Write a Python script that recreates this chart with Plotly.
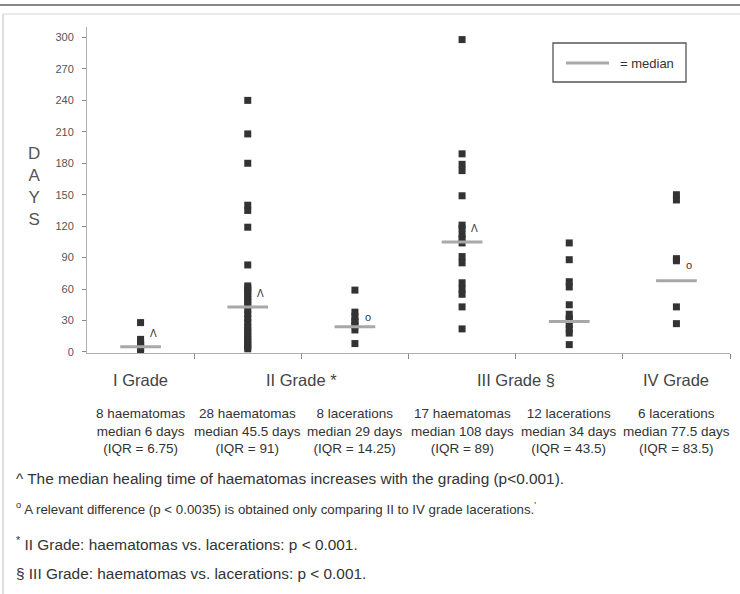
import plotly.graph_objects as go

# ---------------- data ----------------
grade_labels = ["I Grade", "II Grade *", "III Grade §", "IV Grade"]
grade_label_pos = [0, 1.5, 3.5, 5]

group_names = ["I haematomas", "II haematomas", "II lacerations",
               "III haematomas", "III lacerations", "IV lacerations"]

g1_haem = [2, 3, 5, 6, 7, 9, 12, 28]
g2_haem = [3, 5, 7, 10, 12, 15, 18, 21, 24, 28, 32, 36, 40, 44, 47, 50, 53, 56,
           59, 61, 63, 83, 119, 135, 140, 180, 208, 240]
g2_lac = [8, 21, 25, 28, 30, 34, 38, 59]
g3_haem = [22, 43, 55, 60, 66, 85, 91, 104, 108, 112, 118, 121, 149, 173, 179,
           189, 298]
g3_lac = [7, 18, 22, 26, 30, 32, 36, 45, 62, 67, 88, 104]
g4_lac = [27, 43, 87, 89, 145, 150]
groups = [g1_haem, g2_haem, g2_lac, g3_haem, g3_lac, g4_lac]

# median lines as drawn in the picture
median_drawn = [5, 43, 24, 105, 29, 68]

descriptions = [
    "8 haematomas<br>median 6 days<br>(IQR = 6.75)",
    "28 haematomas<br>median 45.5 days<br>(IQR = 91)",
    "8 lacerations<br>median 29 days<br>(IQR = 14.25)",
    "17 haematomas<br>median 108 days<br>(IQR = 89)",
    "12 lacerations<br>median 34 days<br>(IQR = 43.5)",
    "6 lacerations<br>median 77.5 days<br>(IQR = 83.5)",
]

# significance marks: (group index, symbol, y value)
marks = [(0, "Λ", 18), (1, "Λ", 56), (3, "Λ", 118), (2, "o", 33), (5, "o", 83)]

y_ticks = [0, 30, 60, 90, 120, 150, 180, 210, 240, 270, 300]

footnotes = [
    "^ The median healing time of haematomas increases with the grading (p<0.001).",
    "<sup>o</sup> A relevant difference (p < 0.0035) is obtained only comparing II to IV grade lacerations.<sup>'</sup>",
    "<sup>*</sup> II Grade: haematomas vs. lacerations: p < 0.001.",
    "§ III Grade: haematomas vs. lacerations: p < 0.001.",
]

# ---------------- layout geometry ----------------
W, H = 740, 594
L, R, T, B = 87, 10, 27, 241
PW, PH = W - L - R, H - T - B
FONT = "Liberation Sans, Arial, sans-serif"


def px(xp):
    return (xp - L) / PW


def py(yp):
    return (H - B - yp) / PH


fig = go.Figure()
for i, vals in enumerate(groups):
    fig.add_trace(go.Scatter(
        x=[i] * len(vals), y=vals, mode="markers",
        marker=dict(symbol="square", size=7, color="#333333"),
        name=group_names[i], showlegend=False, hoverinfo="y"))

shapes = []
for i, m in enumerate(median_drawn):
    shapes.append(dict(type="line", xref="x", yref="y", x0=i - 0.19, x1=i + 0.19,
                       y0=m, y1=m, line=dict(color="#a8a8a8", width=3),
                       layer="above"))

# legend box
shapes.append(dict(type="rect", xref="paper", yref="paper",
                   x0=px(553), x1=px(686), y0=py(43), y1=py(82),
                   line=dict(color="#555555", width=1.3)))
shapes.append(dict(type="line", xref="paper", yref="paper",
                   x0=px(566), x1=px(609), y0=py(63), y1=py(63),
                   line=dict(color="#a8a8a8", width=3)))
# page frame lines (scan edges)
shapes.append(dict(type="line", xref="paper", yref="paper",
                   x0=px(0), x1=px(740), y0=py(5), y1=py(5),
                   line=dict(color="#888888", width=2), layer="above"))
shapes.append(dict(type="line", xref="paper", yref="paper",
                   x0=px(3), x1=px(740), y0=py(14), y1=py(14),
                   line=dict(color="#d4d4d4", width=1), layer="above"))
shapes.append(dict(type="line", xref="paper", yref="paper",
                   x0=px(3), x1=px(3), y0=py(14), y1=py(594),
                   line=dict(color="#d4d4d4", width=1.5), layer="above"))

ann = []
ann.append(dict(xref="paper", yref="paper", x=px(618), y=py(63),
                text="= median", showarrow=False, xanchor="left", yanchor="middle",
                font=dict(size=13, color="#333333", family=FONT)))
ann.append(dict(xref="paper", yref="paper", x=px(34), y=py(186),
                text="D<br>A<br>Y<br>S", showarrow=False,
                xanchor="center", yanchor="middle",
                font=dict(size=17, color="#555555", family=FONT)))
for lab, pos in zip(grade_labels, grade_label_pos):
    ann.append(dict(xref="x", yref="paper", x=pos, y=py(380), text=lab,
                    showarrow=False, xanchor="center", yanchor="middle",
                    font=dict(size=16.5, color="#444444", family=FONT)))
for i, d in enumerate(descriptions):
    ann.append(dict(xref="x", yref="paper", x=i, y=py(431), text=d,
                    showarrow=False, xanchor="center", yanchor="middle",
                    font=dict(size=13.5, color="#333333", family=FONT)))
for gi, sym, yv in marks:
    ann.append(dict(xref="x", yref="y", x=gi + 0.12, y=yv, text=sym,
                    showarrow=False, xanchor="center", yanchor="middle",
                    font=dict(size=10 if sym == "Λ" else 11, color="#333333",
                              family=FONT)))
foot_y = [478, 509, 543, 573]
foot_size = [15.4, 13.3, 15.4, 15.4]
for txt, yp, fs in zip(footnotes, foot_y, foot_size):
    ann.append(dict(xref="paper", yref="paper", x=px(14), y=py(yp), text=txt,
                    showarrow=False, xanchor="left", yanchor="middle",
                    font=dict(size=fs, color="#333333", family=FONT)))

fig.update_layout(
    width=W, height=H,
    margin=dict(l=L, r=R, t=T, b=B),
    paper_bgcolor="white", plot_bgcolor="white",
    font=dict(family=FONT, color="#555555"),
    shapes=shapes, annotations=ann,
    xaxis=dict(range=[-0.5, 5.5], showgrid=False, zeroline=False,
               showline=True, linecolor="#b0b0b0", linewidth=1,
               tickvals=[0.5, 1.5, 2.5, 3.5, 4.5, 5.5], ticks="outside",
               ticklen=5, tickcolor="#888888", showticklabels=False),
    yaxis=dict(range=[-1, 310], showgrid=False, zeroline=False,
               showline=True, linecolor="#b0b0b0", linewidth=1,
               tickvals=y_ticks, ticks="outside", ticklen=4,
               tickcolor="#888888", ticklabelstandoff=6,
               tickfont=dict(size=11, color="#555555", family=FONT)),
)

fig.write_html("out.html", config={"displayModeBar": False},
               post_script="document.body.style.margin='0px';")
